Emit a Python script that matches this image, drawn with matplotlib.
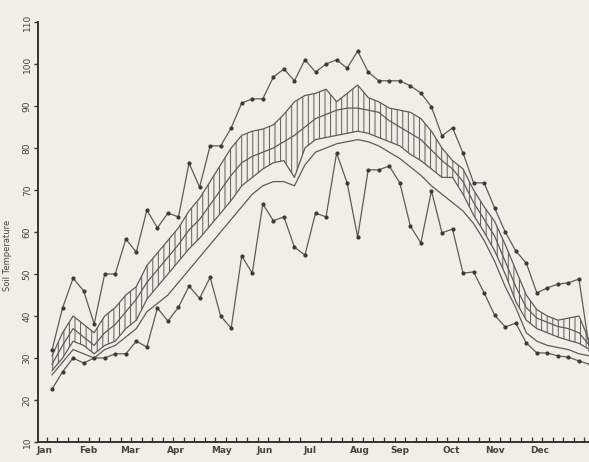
import numpy as np
import matplotlib.pyplot as plt

# weekly soil temperature (deg F), week 0 = first week of January
weeks = np.arange(52)

t_max = [31.9, 41.9, 49.0, 46.0, 38.1, 50.0, 50.0, 58.3, 55.2, 65.2,
         61.0, 64.5, 63.6, 76.4, 70.7, 80.5, 80.5, 84.8, 90.7, 91.7,
         91.7, 96.9, 98.8, 96.0, 101.0, 98.1, 100.0, 101.0, 99.0, 103.1,
         98.1, 96.0, 96.0, 96.0, 94.8, 93.1, 89.8, 82.9, 84.8, 78.8,
         71.7, 71.7, 65.7, 60.0, 55.5, 52.6, 45.5, 46.7, 47.6, 47.9,
         48.8, 31.9]

t_min = [22.6, 26.7, 30.0, 28.8, 30.0, 30.0, 31.0, 31.0, 34.0, 32.6,
         41.9, 38.8, 42.1, 47.1, 44.2, 49.2, 40.0, 37.1, 54.3, 50.2,
         66.7, 62.7, 63.6, 56.4, 54.5, 64.5, 63.6, 78.8, 71.7, 58.8,
         74.8, 74.8, 75.7, 71.7, 61.4, 57.4, 69.8, 59.8, 60.7, 50.2,
         50.5, 45.5, 40.2, 37.4, 38.3, 33.6, 31.2, 31.2, 30.5, 30.2,
         29.3, 28.5]

upper = [30.5, 36.0, 40.0, 38.0, 36.0, 40.0, 42.0, 45.0, 47.0, 52.0,
         55.0, 58.0, 61.0, 65.0, 68.0, 72.0, 76.0, 80.0, 83.0, 84.0,
         84.5, 85.5, 88.0, 91.0, 92.5, 93.0, 94.0, 91.0, 93.0, 95.0,
         92.0, 91.0, 89.5, 89.0, 88.5, 87.0, 84.0, 80.0, 77.0, 75.0,
         70.0, 66.0, 62.5, 57.0, 51.0, 45.0, 41.5, 40.0, 39.0, 39.5,
         40.0, 34.0]

mean = [28.5, 33.0, 37.0, 35.0, 33.0, 36.0, 38.0, 41.0, 44.0, 48.0,
        51.0, 54.0, 57.0, 60.5, 63.0, 66.5, 70.0, 73.5, 76.5, 78.0,
        79.0, 80.0, 81.5, 83.0, 85.0, 87.0, 88.0, 89.0, 89.5, 89.5,
        89.0, 88.5, 86.5, 85.0, 83.5, 82.0, 79.5, 77.0, 75.0, 72.0,
        67.0, 63.0, 59.0, 53.0, 47.0, 42.0, 39.5, 38.5, 37.5, 37.0,
        36.0, 33.0]

lower = [27.0, 30.0, 34.0, 33.0, 31.0, 33.0, 34.0, 37.0, 39.0, 44.0,
         47.0, 50.0, 53.0, 56.0, 58.5, 61.5, 64.5, 67.5, 71.0, 73.0,
         75.0, 76.5, 77.0, 73.0, 80.0, 82.0, 82.5, 83.0, 83.5, 84.0,
         83.5, 82.5, 81.5, 80.5, 78.5, 77.0, 75.0, 73.0, 73.0, 69.0,
         64.0, 60.0, 55.5, 50.0, 43.5, 39.0, 37.0, 36.0, 35.0, 34.2,
         33.5, 32.0]

extra = [26.0, 29.0, 32.0, 31.0, 30.0, 32.0, 33.0, 35.0, 37.0, 41.0,
         43.0, 45.0, 48.0, 51.0, 54.0, 57.0, 60.0, 63.0, 66.0, 69.0,
         71.0, 72.0, 72.0, 71.0, 76.0, 79.0, 80.0, 81.0, 81.5, 82.0,
         81.5, 80.5, 79.0, 77.5, 75.5, 73.5, 71.0, 69.0, 67.0, 65.0,
         62.0, 58.0, 53.0, 47.0, 42.0, 36.0, 34.0, 33.0, 32.5, 32.0,
         31.0, 30.5]

months = ['Jan', 'Feb', 'Mar', 'Apr', 'May', 'Jun',
          'Jul', 'Aug', 'Sep', 'Oct', 'Nov', 'Dec']

paper = '#f1eee9'
ink = '#5c5c5c'

plt.rcParams['hatch.linewidth'] = 0.7

fig = plt.figure(figsize=(5.89, 4.62), dpi=100, facecolor=paper)
ax = fig.add_axes([38 / 589, 20 / 462, 551 / 589, 420 / 462])
ax.set_facecolor(paper)

ax.fill_between(weeks, lower, upper, facecolor='none', edgecolor=ink,
                hatch='|||', linewidth=0)

for series in (upper, mean, lower, extra):
    ax.plot(weeks, series, color=ink, lw=0.9)

for series in (t_max, t_min):
    ax.plot(weeks, series, color=ink, lw=0.9, marker='o', ms=2.0,
            mec='#3a3a3a', mfc='#3a3a3a')

ax.set_xlim(-1.33, 50.95)
ax.set_ylim(10, 110)

for side in ('top', 'right'):
    ax.spines[side].set_visible(False)
for side in ('left', 'bottom'):
    ax.spines[side].set_color('#333333')
    ax.spines[side].set_linewidth(1.4)

ax.set_yticks(np.arange(10, 111, 10))
ax.set_yticklabels([str(v) for v in range(10, 111, 10)], rotation=90,
                   va='center', fontsize=6.5, color='#444444')
ax.tick_params(axis='y', direction='out', length=3, width=1, pad=1.5,
               color='#333333')

# month labels and weekly tick marks
month_pos = [-0.7, 3.4, 7.4, 11.8, 16.1, 20.2, 24.5, 29.2, 33.0, 37.9, 42.0, 46.3]
ax.set_xticks(month_pos)
ax.set_xticklabels(months, fontsize=6.5, fontweight='bold', color='#444444')
ax.tick_params(axis='x', length=0, pad=3)
ax.set_xticks(np.arange(-0.5, 51, 1.0), minor=True)
ax.tick_params(axis='x', which='minor', direction='in', length=3.5,
               width=0.9, color='#333333')

fig.text(8 / 589, 1 - 255 / 462, 'Soil Temperature', rotation=90,
         fontsize=6, color='#444444', ha='center', va='center')

fig.savefig('out.png', dpi=100, facecolor=paper)
